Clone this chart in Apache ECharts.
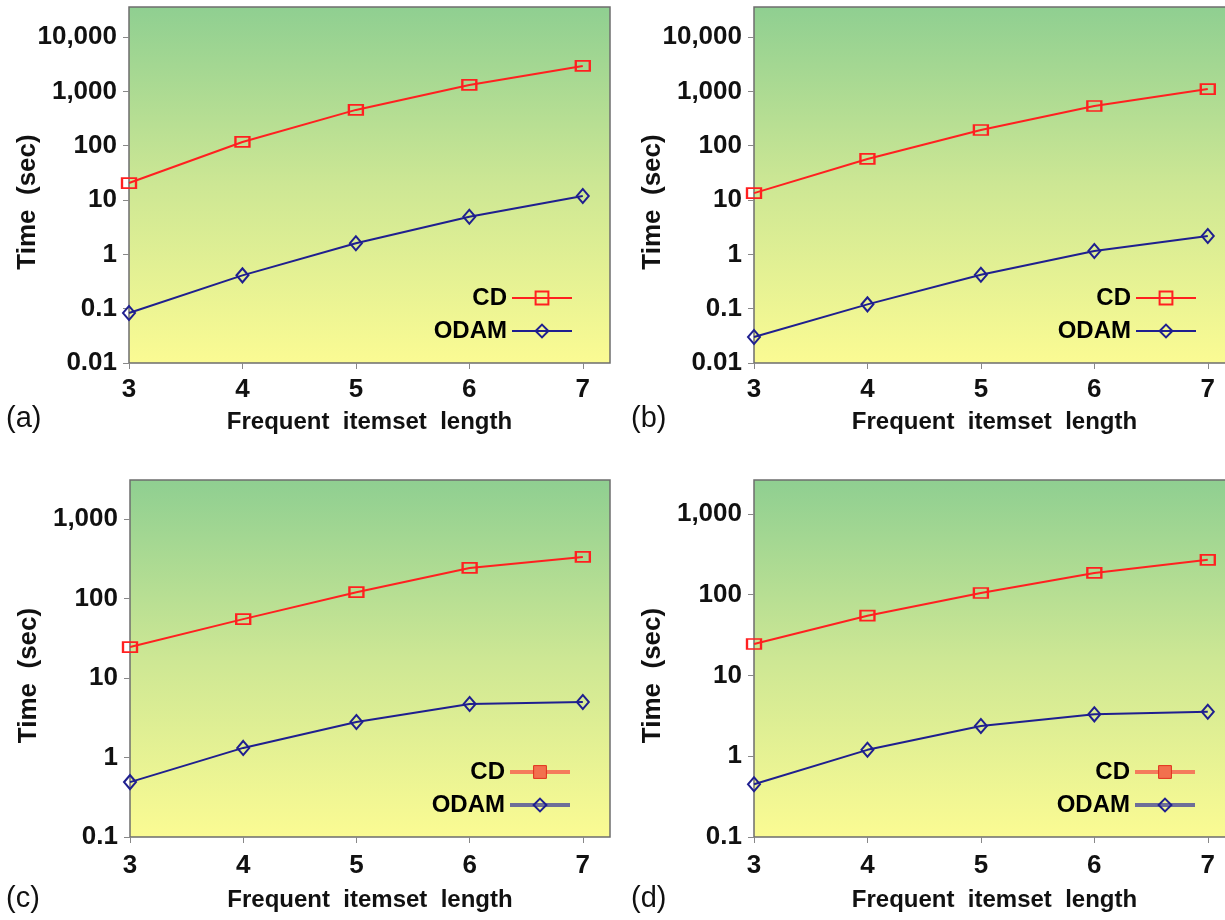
<!DOCTYPE html>
<html>
<head>
<meta charset="utf-8">
<title>CD vs ODAM</title>
<script src="https://cdn.jsdelivr.net/npm/echarts@6/dist/echarts.min.js"></script>
<style>
html, body { margin: 0; padding: 0; background: #fff; overflow: hidden; }
/* the right-hand panels run past the page edge, as in the scan */
#main { width: 1240px; height: 920px; }
</style>
</head>
<body>
<div id="main"></div>
<script>
// x: frequent itemset length
var lengths = [3, 4, 5, 6, 7];

// time in seconds
var cdA = [20.5, 117, 455, 1310, 2930];
var odamA = [0.083, 0.41, 1.6, 4.9, 11.8];
var cdB = [13.4, 57, 194, 537, 1100];
var odamB = [0.030, 0.12, 0.42, 1.15, 2.17];
var cdC = [24.5, 55, 120, 242, 333];
var odamC = [0.49, 1.32, 2.8, 4.7, 5.0];
var cdD = [24.5, 55, 105, 186, 270];
var odamD = [0.45, 1.2, 2.37, 3.3, 3.55];

// tick labels
var ticksTop = [0.01, 0.1, 1, 10, 100, 1000, 10000];
var ticksBottom = [0.1, 1, 10, 100, 1000];
var panelLabels = ['(a)', '(b)', '(c)', '(d)'];

var FONT = 'Liberation Sans, Arial, sans-serif';
var RED = '#ff2020';
var NAVY = '#1f1f8f';

var panels = [
    { cd: cdA, odam: odamA, ticks: ticksTop, min: 0.01, max: 35650,
      grid: { left: 129, top: 7, width: 481, height: 356 },
      legend: { right: 667, top: 286 }, label: { left: 6, top: 404 },
      labelMargin: 14, nameGap: 47, filledLegend: false },
    { cd: cdB, odam: odamB, ticks: ticksTop, min: 0.01, max: 35650,
      grid: { left: 754, top: 7, width: 481, height: 356 },
      legend: { right: 43, top: 286 }, label: { left: 631, top: 404 },
      labelMargin: 14, nameGap: 47, filledLegend: false },
    { cd: cdC, odam: odamC, ticks: ticksBottom, min: 0.1, max: 3090,
      grid: { left: 130, top: 480, width: 480, height: 357 },
      legend: { right: 668, top: 760 }, label: { left: 6, top: 884 },
      labelMargin: 16, nameGap: 51, filledLegend: true },
    { cd: cdD, odam: odamD, ticks: ticksBottom, min: 0.1, max: 2630,
      grid: { left: 754, top: 480, width: 481, height: 357 },
      legend: { right: 43, top: 760 }, label: { left: 631, top: 884 },
      labelMargin: 16, nameGap: 51, filledLegend: true }
];

function toPairs(ys) {
    return lengths.map(function(x, i) { return [x, ys[i]]; });
}

function isPowerOfTen(v) {
    var l = Math.log10(v);
    return Math.abs(l - Math.round(l)) < 1e-6;
}

var option = {
    animation: false,
    backgroundColor: '#fff',
    title: [],
    legend: [],
    grid: [],
    xAxis: [],
    yAxis: [],
    series: []
};

panels.forEach(function(p, i) {
    // 面板底色：上绿下黄渐变
    option.grid.push({
        left: p.grid.left, top: p.grid.top, width: p.grid.width, height: p.grid.height,
        show: true,
        borderColor: '#6d6d6d',
        borderWidth: 1.5,
        backgroundColor: {
            type: 'linear', x: 0, y: 0, x2: 0, y2: 1,
            colorStops: [
                { offset: 0, color: '#8fcf91' },
                { offset: 0.5, color: '#cde794' },
                { offset: 1, color: '#fbfb93' }
            ]
        }
    });

    option.xAxis.push({
        type: 'value',
        gridIndex: i,
        min: 3,
        max: 7.24,
        interval: 1,
        name: 'Frequent  itemset  length',
        nameLocation: 'middle',
        nameGap: p.nameGap,
        nameMoveOverlap: false,
        nameTextStyle: { fontFamily: FONT, fontSize: 24, fontWeight: 'bold', color: '#111' },
        axisLine: { show: false },
        axisTick: { show: true, length: 6, lineStyle: { color: '#888' }, customValues: lengths },
        axisLabel: {
            customValues: lengths,
            margin: p.labelMargin,
            fontFamily: FONT, fontSize: 26, fontWeight: 'bold', color: '#111',
            formatter: function(v) { return Math.abs(v - Math.round(v)) < 1e-6 ? String(Math.round(v)) : ''; }
        },
        splitLine: { show: false }
    });

    option.yAxis.push({
        type: 'log',
        gridIndex: i,
        logBase: 10,
        min: p.min,
        max: p.max,
        name: 'Time  (sec)',
        nameLocation: 'middle',
        nameGap: 88,
        nameMoveOverlap: false,
        nameTextStyle: {
            fontFamily: FONT, fontSize: 26, fontWeight: 'bold', color: '#111',
            padding: [0, 34, 0, 0]
        },
        axisLine: { show: false },
        axisTick: { show: true, length: 6, lineStyle: { color: '#888' }, customValues: p.ticks },
        axisLabel: {
            customValues: p.ticks,
            margin: 12,
            fontFamily: FONT, fontSize: 26, fontWeight: 'bold', color: '#111',
            formatter: function(v) { return isPowerOfTen(v) ? v.toLocaleString('en-US') : ''; }
        },
        splitLine: { show: false },
        minorTick: { show: false }
    });

    option.series.push({
        name: 'CD',
        type: 'line',
        xAxisIndex: i,
        yAxisIndex: i,
        data: toPairs(p.cd),
        symbol: 'rect',
        symbolSize: [14, 10],
        lineStyle: { color: RED, width: 2 },
        itemStyle: { color: 'rgba(0,0,0,0)', borderColor: RED, borderWidth: 2 },
        z: 3
    });
    option.series.push({
        name: 'ODAM',
        type: 'line',
        xAxisIndex: i,
        yAxisIndex: i,
        data: toPairs(p.odam),
        symbol: 'diamond',
        symbolSize: [12, 14],
        lineStyle: { color: NAVY, width: 2 },
        itemStyle: { color: 'rgba(0,0,0,0)', borderColor: NAVY, borderWidth: 2 },
        z: 3
    });

    // 图例：(c)(d) 的 CD 图标是实心的
    var legendData;
    if (p.filledLegend) {
        legendData = [
            { name: 'CD', itemStyle: { color: '#f2704e', borderColor: '#e0301c', borderWidth: 1 },
              lineStyle: { color: '#f47c5c', width: 4 } },
            { name: 'ODAM', itemStyle: { color: 'rgba(0,0,0,0)', borderColor: NAVY, borderWidth: 2 },
              lineStyle: { color: '#6e6e98', width: 4 } }
        ];
    } else {
        legendData = ['CD', 'ODAM'];
    }
    option.legend.push({
        orient: 'vertical',
        right: p.legend.right,
        top: p.legend.top,
        align: 'right',
        padding: 0,
        itemWidth: 60,
        itemHeight: 16,
        itemGap: 9,
        selectedMode: false,
        textStyle: { fontFamily: FONT, fontSize: 24, fontWeight: 'bold', color: '#000' },
        data: legendData
    });

    option.title.push({
        text: panelLabels[i],
        left: p.label.left,
        top: p.label.top,
        padding: 0,
        textStyle: { fontFamily: FONT, fontSize: 29, fontWeight: 'normal', color: '#111' }
    });
});

var myChart = echarts.init(document.getElementById('main'), null, { renderer: 'canvas' });
myChart.setOption(option);
</script>
</body>
</html>
